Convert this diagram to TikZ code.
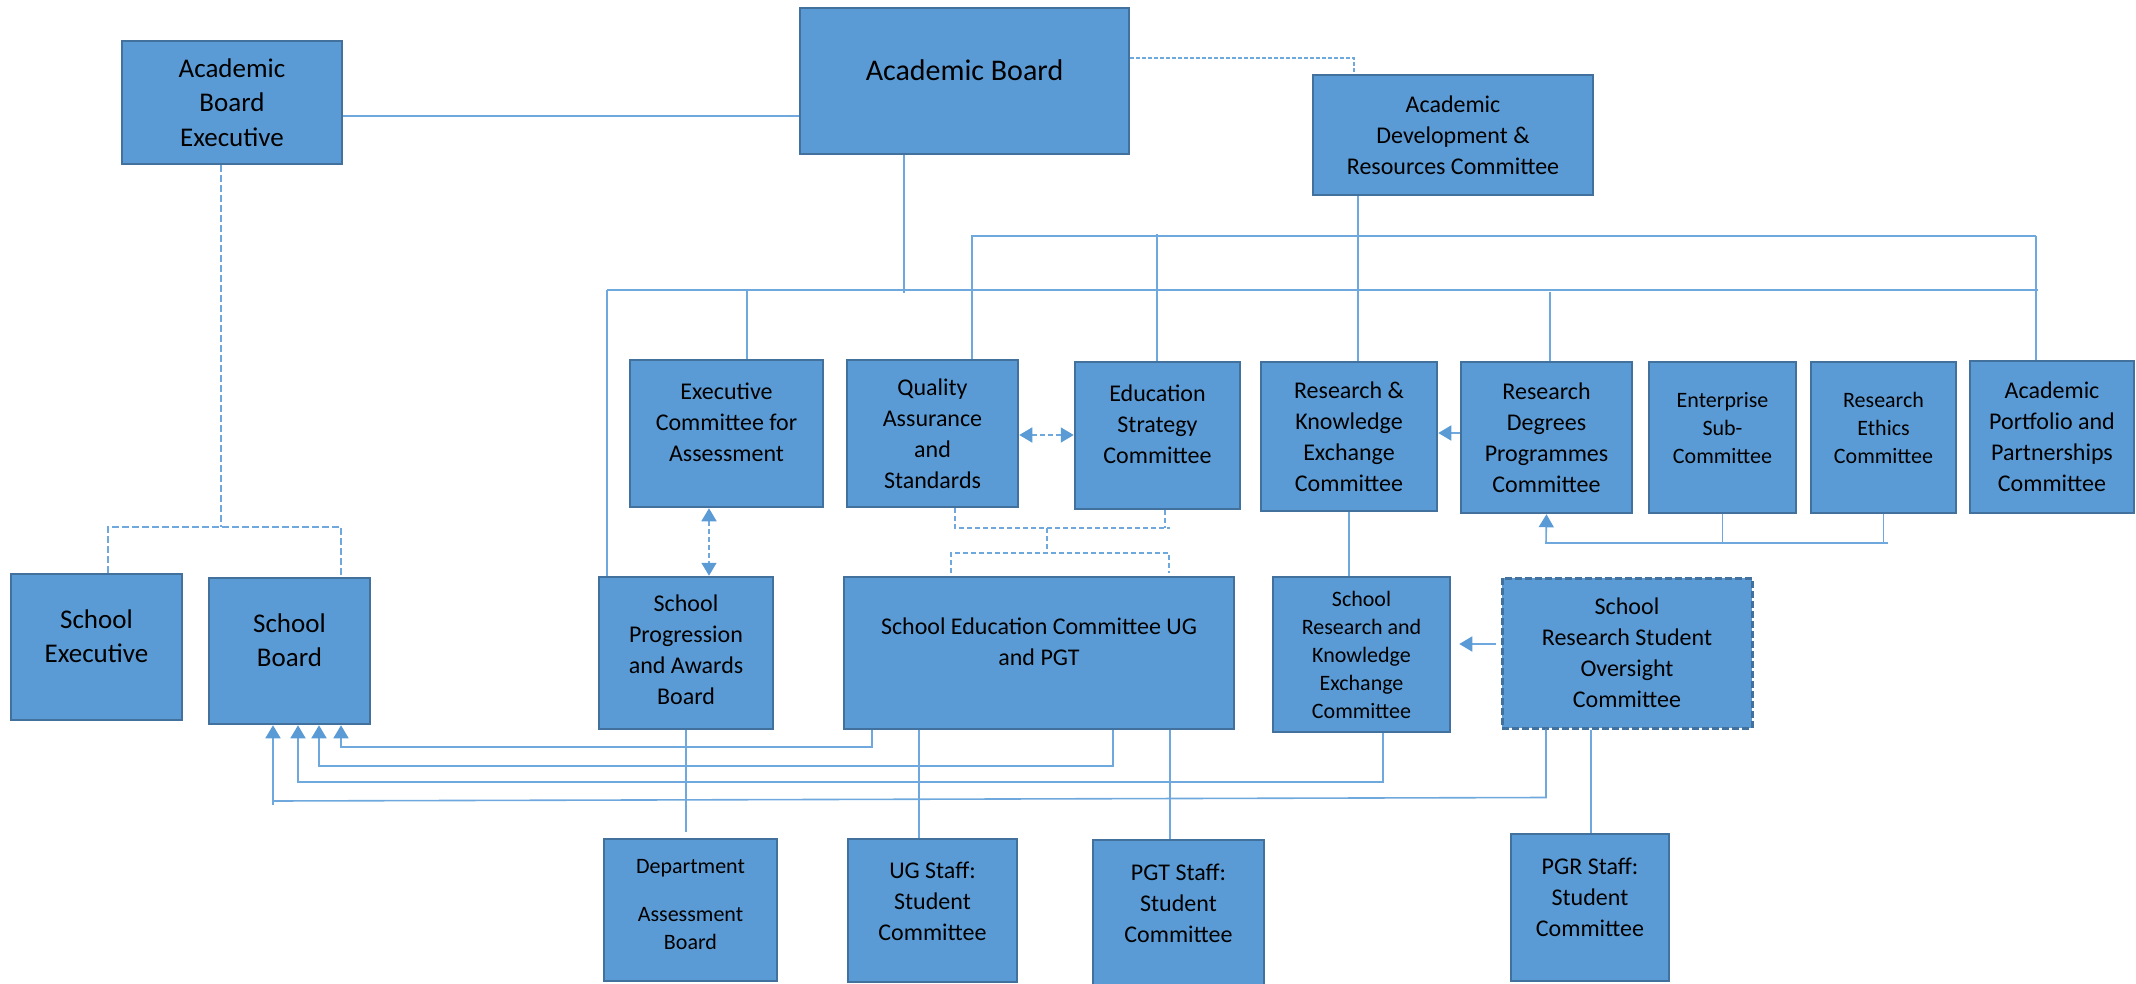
\documentclass[tikz,border=0pt]{standalone}
\usepackage{fontspec}
\setmainfont{Carlito}
\usetikzlibrary{arrows.meta}
\definecolor{boxfill}{HTML}{5B9BD5}
\definecolor{boxline}{HTML}{41719C}
\definecolor{wire}{HTML}{6FA8DC}
\begin{document}
\begin{tikzpicture}[x=1pt,y=-1pt,
  box/.style={draw=boxline, fill=boxfill, line width=2.5pt, align=center, inner sep=0pt, font=\fontsize{24}{31}\selectfont},
  smalltext/.style={font=\fontsize{22}{28}\selectfont},
  bigtext/.style={font=\fontsize{27}{34.5}\selectfont},
  conn/.style={draw=wire, line width=1.6pt},
  dashy/.style={conn, dash pattern=on 5pt off 3pt},
  onearrow/.style={-{Triangle[width=15pt,length=13pt,color=boxfill]}},
  twoarrow/.style={{Triangle[width=15pt,length=13pt,color=boxfill]}-{Triangle[width=15pt,length=13pt,color=boxfill]}}]
\useasboundingbox (0,0) rectangle (2136,984);
\node [box, bigtext, minimum width=220, minimum height=123] (abe) at (232,102.5) {Academic\\Board\\Executive};
\node [box, font=\fontsize{30}{36}\selectfont, minimum width=329, minimum height=146] (ab) at (964.5,81) {Academic Board\\[-14pt]};
\node [box, minimum width=280, minimum height=120] (adrc) at (1453,135) {Academic\\Development \&\\Resources Committee};
\node [box, minimum width=193, minimum height=147] (eca) at (726.5,433.5) {Executive\\Committee for\\Assessment\\[-9pt]};
\node [box, minimum width=171, minimum height=147] (qas) at (932.5,433.5) {Quality\\Assurance\\and\\Standards};
\node [box, minimum width=165, minimum height=147] (esc) at (1157.5,435.5) {Education\\Strategy\\Committee\\[-9pt]};
\node [box, minimum width=176, minimum height=149] (rkec) at (1349,436.5) {Research \&\\Knowledge\\Exchange\\Committee};
\node [box, minimum width=171, minimum height=151] (rdpc) at (1546.5,437.5) {Research\\Degrees\\Programmes\\Committee};
\node [box, smalltext, minimum width=147, minimum height=151] (essc) at (1722.5,437.5) {Enterprise\\Sub-\\Committee\\[-8pt]};
\node [box, smalltext, minimum width=145, minimum height=151] (rec) at (1883.5,437.5) {Research\\Ethics\\Committee\\[-8pt]};
\node [box, minimum width=164, minimum height=152] (appc) at (2052,437) {Academic\\Portfolio and\\Partnerships\\Committee};
\node [box, bigtext, minimum width=171, minimum height=146] (se) at (96.5,647) {School\\Executive\\[-12.5pt]};
\node [box, bigtext, minimum width=161, minimum height=146] (sb) at (289.5,651) {School\\Board\\[-12.5pt]};
\node [box, minimum width=174, minimum height=152] (spab) at (686,653) {School\\Progression\\and Awards\\Board\\[-25pt]};
\node [box, minimum width=390, minimum height=152] (sec) at (1039,653) {School Education Committee UG\\and PGT\\[-8pt]};
\node [box, smalltext, minimum width=177, minimum height=155] (srkec) at (1361.5,654.5) {School\\Research and\\Knowledge\\Exchange\\Committee};
\node [box, line width=3pt, dash pattern=on 7pt off 3pt, minimum width=250, minimum height=150] (srsoc) at (1627,653) {School\\Research Student\\Oversight\\Committee};
\node [box, smalltext, minimum width=173, minimum height=142] (dab) at (690.5,910) {Department\\[20pt]Assessment\\Board\\[-17pt]};
\node [box, minimum width=169, minimum height=143] (ugsc) at (932.5,910.5) {UG Staff:\\Student\\Committee\\[-12pt]};
\node [box, minimum width=171, minimum height=152] (pgtsc) at (1178.5,916) {PGT Staff:\\Student\\Committee\\[-6pt]};
\node [box, minimum width=158, minimum height=147] (pgrsc) at (1590,907.5) {PGR Staff:\\Student\\Committee\\[-10pt]};
\draw [conn] (abe.east |- 0,116) -- (ab.west |- 0,116);
\draw [dashy, dash pattern=on 4pt off 2pt] (ab.east |- 0,58) -| (adrc.north -| 1354,0);
\draw [conn] (972,236) -- (2036,236);
\draw [conn] (607,290) -- (2038,290);
\draw [conn] (ab.south -| 904,0) -- (904,293);
\draw [conn] (adrc.south -| 1358,0) -- (rkec.north -| 1358,0);
\draw [conn] (972,235) -- (qas.north -| 972,0);
\draw [conn] (1157,234) -- (esc.north -| 1157,0);
\draw [conn] (2036,236) -- (appc.north -| 2036,0);
\draw [conn] (607,290) -- (spab.north -| 607,0);
\draw [conn] (747,290) -- (eca.north -| 747,0);
\draw [conn] (1550,292) -- (rdpc.north -| 1550,0);
\draw [dashy, dash pattern=on 7pt off 3pt] (abe.south -| 221,0) -- (221,527);
\draw [dashy, dash pattern=on 7pt off 3pt] (se.north -| 108,0) |- (341,527) -- (sb.north -| 341,0);
\draw [dashy, twoarrow] (eca.south -| 709,0) -- (spab.north -| 709,0);
\draw [dashy, twoarrow] (qas.east |- 0,435) -- (esc.west |- 0,435);
\draw [dashy] (qas.south -| 955,0) |- (1170,528);
\draw [dashy] (esc.south -| 1165,0) -- (1165,528);
\draw [dashy] (1047,528) -- (1047,553);
\draw [dashy] (951,573) |- (1169,553) -- (1169,573);
\draw [conn, onearrow] (rdpc.west |- 0,433) -- (rkec.east |- 0,433);
\coordinate (rdbus) at (1546,543);
\draw [conn] (rec.south) |- (1888,543);
\draw [conn, onearrow] (rec.south |- rdbus) -- (rdbus) -- (rdpc.south);
\draw [conn] (essc.south) -- (essc.south |- rdbus);
\draw [conn] (rkec.south) -- (rkec.south |- srkec.north);
\draw [conn, onearrow, shorten <=5pt, shorten >=8pt] (srsoc.west |- 0,644) -- (srkec.east |- 0,644);
\draw [conn, onearrow] (sec.south -| 872,0) -- ++(0,17) -| (sb.south -| 341,0);
\draw [conn, onearrow] (sec.south -| 1113,0) -- ++(0,36) -| (sb.south -| 319,0);
\draw [conn, onearrow] (srkec.south -| 1383,0) -- ++(0,49) -| (sb.south -| 298,0);
\draw [conn, onearrow] (srsoc.south -| 1546,0) -- ++(0,68) -- (273,801) -- (sb.south -| 273,0);
\draw [conn] (273,801) -- (273,805);
\draw [conn] (spab.south) -- (spab.south |- 0,832);
\draw [conn] (sec.south -| 919,0) -- (ugsc.north -| 919,0);
\draw [conn] (sec.south -| 1170,0) -- (pgtsc.north -| 1170,0);
\draw [conn] (srsoc.south -| 1591,0) -- (pgrsc.north -| 1591,0);
\end{tikzpicture}
\end{document}
